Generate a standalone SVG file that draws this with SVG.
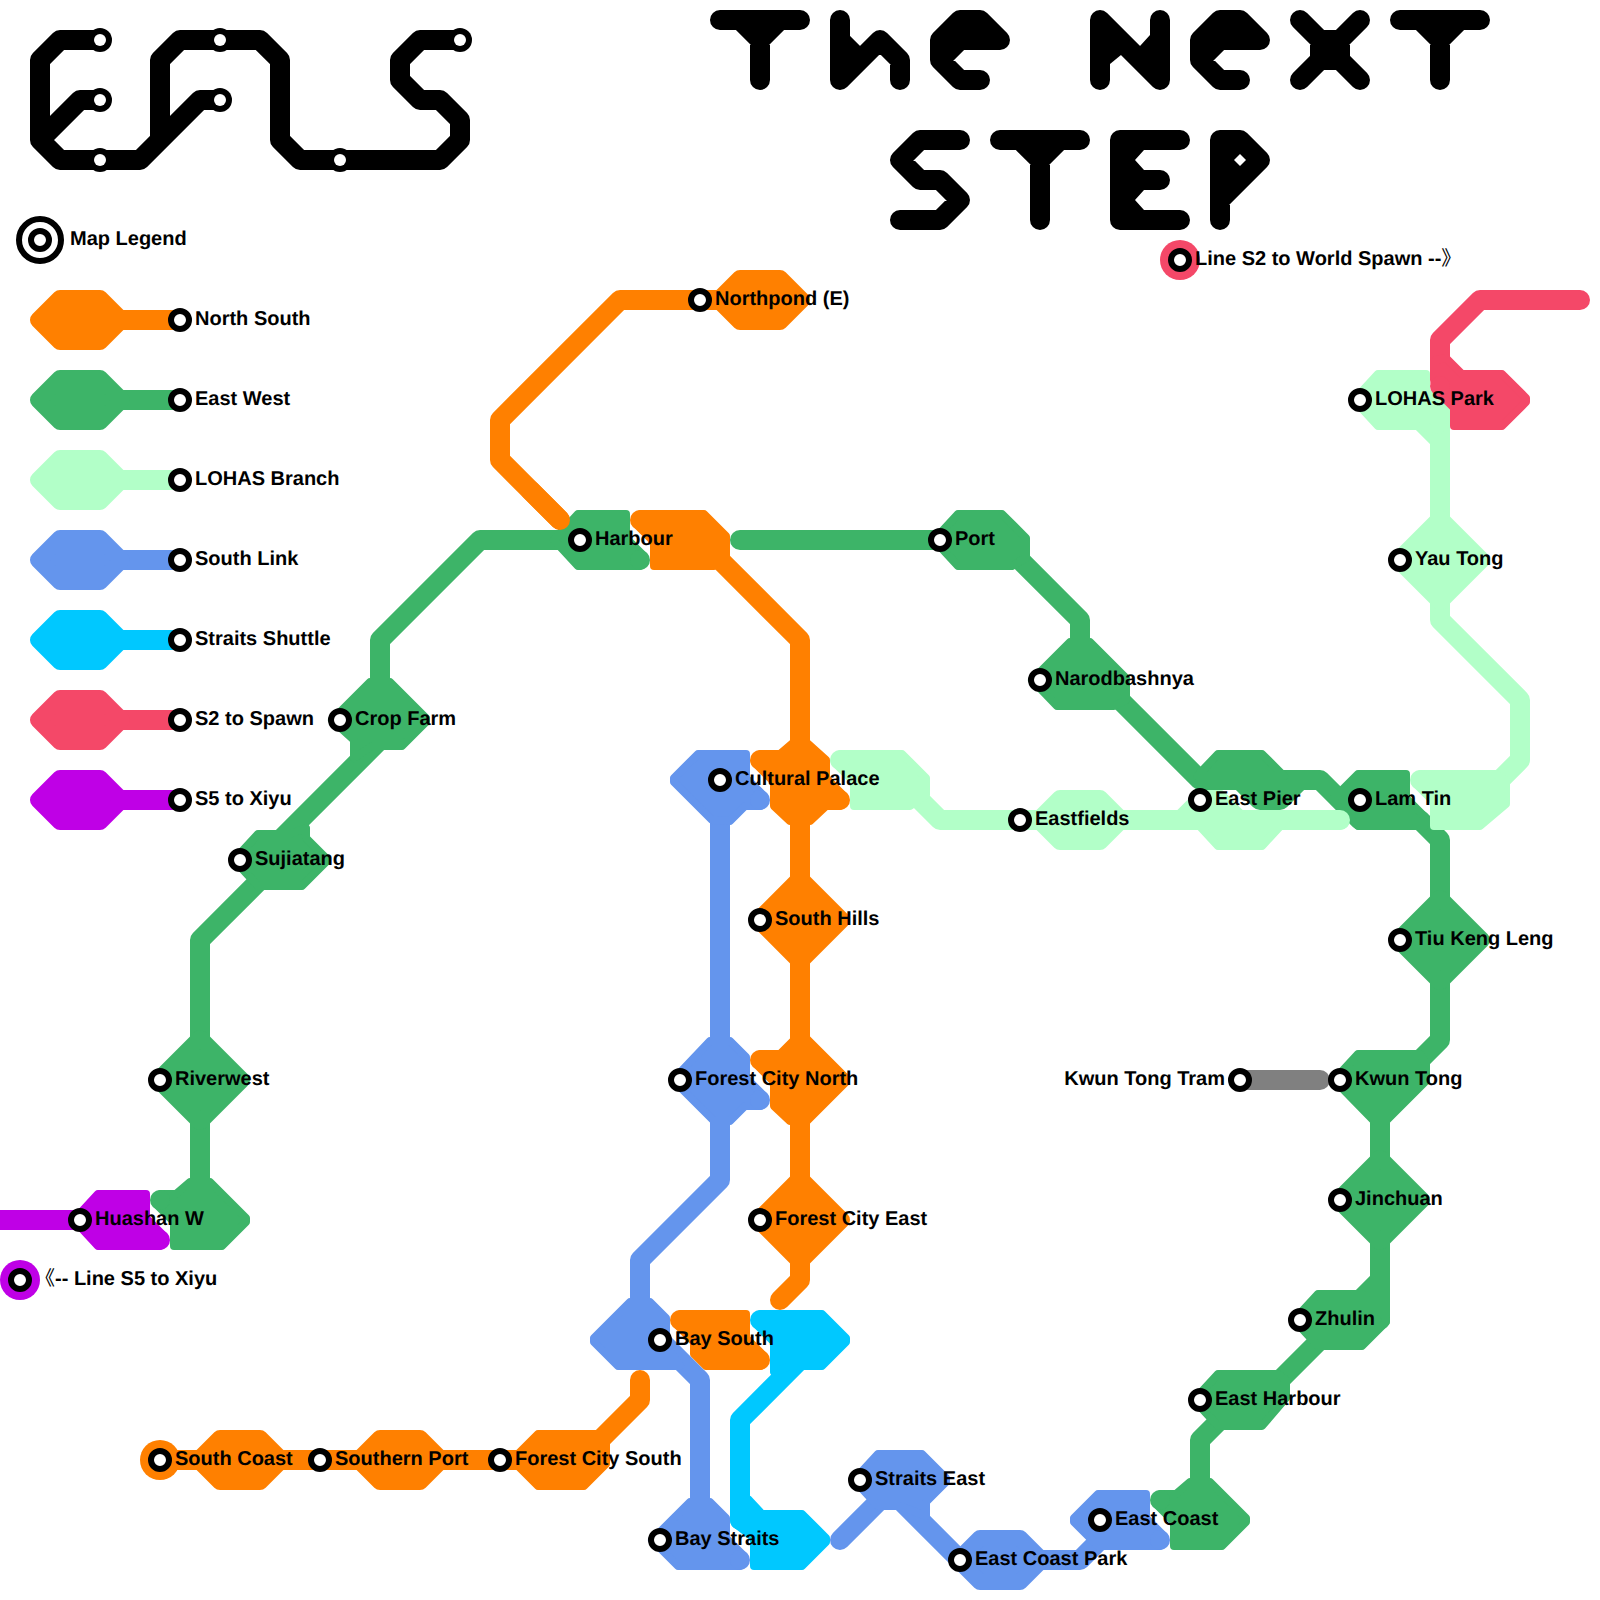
<svg xmlns="http://www.w3.org/2000/svg" xmlns:xlink="http://www.w3.org/1999/xlink" width="1600" height="1600" viewBox="0 0 1600 1600">
<style>
text{font:bold 20px "Liberation Sans","Noto Sans CJK SC",sans-serif;fill:#000;text-rendering:geometricPrecision}
.thin{font-weight:400}
.l{fill:none;stroke-width:20;stroke-linecap:round;stroke-linejoin:round}
.s{stroke-width:8;stroke-linejoin:round}
.r{stroke-width:16;stroke-linejoin:round}
.k{stroke:#000}.kf{fill:#000}
.or{stroke:#ff8000;fill:#ff8000}.gr{stroke:#3db468;fill:#3db468}.lg{stroke:#b2ffc8;fill:#b2ffc8}.bl{stroke:#6495ed;fill:#6495ed}.cy{stroke:#00c8ff;fill:#00c8ff}.pk{stroke:#f44868;fill:#f44868}.pu{stroke:#bf00e6;fill:#bf00e6}.gy{stroke:#808080}
.l.or,.l.gr,.l.lg,.l.bl,.l.cy,.l.pk,.l.pu,.l.k,.l.gy{fill:none}
.c{stroke:none}
</style>
<defs>
<polygon id="hex" class="r" points="-42,0 -20,-22 20,-22 42,0 20,22 -20,22"/>
<polygon id="dia" class="r" points="-42,0 0,-42 42,0 0,42"/>
<circle id="st" r="9" fill="#fff" stroke="#000" stroke-width="6"/>
<circle id="dot" r="6" fill="#fff"/>
</defs>

<g id="title-efls">
<path class="l k" d="M460,40H420L400,60V80L420,100H440L460,120V140L440,160H300L280,140V60L260,40H180L160,60V140L140,160H60L40,140V60L60,40H100M100,100H80L40,140M220,100H200L140,160"/>
<g fill="#000"><circle cx="100" cy="40" r="12"/><circle cx="100" cy="100" r="12"/><circle cx="100" cy="160" r="12"/><circle cx="220" cy="40" r="12"/><circle cx="220" cy="100" r="12"/><circle cx="340" cy="160" r="12"/><circle cx="460" cy="40" r="12"/></g>
<use href="#dot" x="100" y="40"/><use href="#dot" x="100" y="100"/><use href="#dot" x="100" y="160"/><use href="#dot" x="220" y="40"/><use href="#dot" x="220" y="100"/><use href="#dot" x="340" y="160"/><use href="#dot" x="460" y="40"/>
</g>
<g id="title-next-step">
<path class="l k" d="M720,20H800M740,20L760,40V80M780,20L760,40M840,20V80M840,40L860,60M840,80L880,40L900,60V80M980,80H960L940,60V40L960,20H980L1000,40H960L940,60M1100,80V20L1160,80V20M1240,80H1220L1200,60V40L1220,20H1240L1260,40H1220L1200,60M1300,20L1320,40V60L1300,80M1360,20L1340,40V60L1360,80M1320,40H1340M1320,60H1340M1400,20H1480M1420,20L1440,40V80M1460,20L1440,40M960,140H920L900,160L920,180H940L960,200L940,220H900M1000,140H1080M1020,140L1040,160V220M1060,140L1040,160M1180,140H1120V220H1180M1160,180H1120M1220,220V140H1240L1260,160L1220,200"/>
<polygon class="kf" points="1108,40 1125,50 1121,55 1110,64 1108,64"/>
<polygon class="kf" points="1136,50 1140,46 1150,35 1152,35 1152,60"/>
<polygon class="kf" points="1144,150 1135,160 1144,170 1120,170 1120,150"/>
<polygon class="kf" points="1144,190 1135,200 1144,210 1120,210 1120,190"/>
<polygon class="kf" points="1220,140 1240,140 1260,160 1220,200"/>
<polygon fill="#fff" points="1240,154 1246,160 1240,166 1234,160"/>
</g>

<g id="connectors">
<path class="l gy" d="M1240,1080H1320"/>
<path class="l gr" d="M200,1220V940L280,860M280,840L380,740V640L480,540H580M740,540H1000L1080,620V650M1100,680L1200,780H1320L1360,820H1420L1440,840V1040L1380,1100V1320M1240,780L1260,800H1280L1300,780M1380,1280L1280,1380M1240,1400L1200,1440V1500"/>
<path class="l or" d="M760,300H620L500,420V460L560,520M700,540L800,640V1280L780,1300M160,1460H580L640,1400V1380"/>
<path class="l lg" d="M1440,400V620L1520,700V760L1480,800M1420,420L1440,440M900,780L940,820H1340"/>
<path class="l bl" d="M720,780V1180L640,1260V1300M660,1340L700,1380V1500M840,1540L900,1480M900,1500L960,1560M1020,1560H1080L1110,1530"/>
<path class="l cy" d="M800,1360L740,1420V1520"/>
<path class="l pk" d="M1580,300H1480L1440,340V380"/>
<path class="l pu" d="M0,1220H80"/>
</g>

<g id="legend-title"><circle cx="40" cy="240" r="21" fill="#fff" stroke="#000" stroke-width="6"/><use href="#st" x="40" y="240"/><text x="70" y="245">Map Legend</text></g>
<g id="legend-north-south"><path class="l or" d="M100,320H180"/><use href="#hex" class="or" x="80" y="320"/><use href="#st" x="180" y="320"/><text x="195" y="325">North South</text></g>
<g id="legend-east-west"><path class="l gr" d="M100,400H180"/><use href="#hex" class="gr" x="80" y="400"/><use href="#st" x="180" y="400"/><text x="195" y="405">East West</text></g>
<g id="legend-lohas"><path class="l lg" d="M100,480H180"/><use href="#hex" class="lg" x="80" y="480"/><use href="#st" x="180" y="480"/><text x="195" y="485">LOHAS Branch</text></g>
<g id="legend-south-link"><path class="l bl" d="M100,560H180"/><use href="#hex" class="bl" x="80" y="560"/><use href="#st" x="180" y="560"/><text x="195" y="565">South Link</text></g>
<g id="legend-straits"><path class="l cy" d="M100,640H180"/><use href="#hex" class="cy" x="80" y="640"/><use href="#st" x="180" y="640"/><text x="195" y="645">Straits Shuttle</text></g>
<g id="legend-s2"><path class="l pk" d="M100,720H180"/><use href="#hex" class="pk" x="80" y="720"/><use href="#st" x="180" y="720"/><text x="195" y="725">S2 to Spawn</text></g>
<g id="legend-s5"><path class="l pu" d="M100,800H180"/><use href="#hex" class="pu" x="80" y="800"/><use href="#st" x="180" y="800"/><text x="195" y="805">S5 to Xiyu</text></g>

<g id="node-northpond"><use href="#hex" class="or" x="760" y="300"/><use href="#st" x="700" y="300"/><text x="715" y="305">Northpond (E)</text></g>
<g id="node-harbour">
<polygon class="s gr" points="554,540 578,514 626,514 626,538 644,556 640,566 578,566"/><circle class="gr c" cx="640" cy="560" r="10"/>
<path class="l or" d="M530,490L560,520"/>
<polygon class="s or" points="640,514 704,514 726,536 726,558 714,566 654,566 654,542 636,524"/><circle class="or c" cx="640" cy="520" r="10"/>
<use href="#st" x="580" y="540"/><text x="595" y="545">Harbour</text></g>
<g id="node-port"><polygon class="s gr" points="934,540 958,514 1002,514 1026,538 1026,558 1012,566 958,566"/><use href="#st" x="940" y="540"/><text x="955" y="545">Port</text></g>
<g id="node-crop-farm"><polygon class="s gr" points="370,682 390,682 426,718 426,722 402,746 372,746 354,758 354,740 332,720"/><use href="#st" x="340" y="720"/><text x="355" y="725">Crop Farm</text></g>
<g id="node-sujiatang"><polygon class="s gr" points="234,860 258,834 290,834 306,828 306,838 326,858 326,862 302,886 258,886"/><use href="#st" x="240" y="860"/><text x="255" y="865">Sujiatang</text></g>
<g id="node-riverwest"><use href="#dia" class="gr" x="200" y="1080"/><use href="#st" x="160" y="1080"/><text x="175" y="1085">Riverwest</text></g>
<g id="node-huashan-w">
<polygon class="s pu" points="74,1220 98,1194 146,1194 146,1218 164,1236 160,1246 98,1246"/><circle class="pu c" cx="160" cy="1240" r="10"/>
<polygon class="s gr" points="190,1182 210,1182 246,1218 246,1222 222,1246 174,1246 174,1222 156,1204 160,1194 176,1194"/><circle class="gr c" cx="160" cy="1200" r="10"/>
<use href="#st" x="80" y="1220"/><text x="95" y="1225">Huashan W</text></g>
<g id="terminal-s5"><circle class="pu c" cx="20" cy="1280" r="20"/><use href="#st" x="20" y="1280"/><text x="35" y="1285"><tspan class="thin">《</tspan>-- Line S5 to Xiyu</text></g>
<g id="terminal-s2"><circle class="pk c" cx="1180" cy="260" r="20"/><use href="#st" x="1180" y="260"/><text x="1195" y="265">Line S2 to World Spawn --<tspan class="thin">》</tspan></text></g>
<g id="node-south-coast"><circle class="or c" cx="160" cy="1460" r="20"/><use href="#hex" class="or" x="240" y="1460"/><use href="#st" x="160" y="1460"/><text x="175" y="1465">South Coast</text></g>
<g id="node-southern-port"><use href="#hex" class="or" x="400" y="1460"/><use href="#st" x="320" y="1460"/><text x="335" y="1465">Southern Port</text></g>
<g id="node-forest-city-south"><polygon class="s or" points="514,1458 538,1434 596,1434 606,1444 606,1464 584,1486 538,1486 514,1462"/><use href="#st" x="500" y="1460"/><text x="515" y="1465">Forest City South</text></g>
<g id="node-cultural-palace">
<polygon class="s bl" points="674,778 698,754 746,754 746,778 764,796 760,806 745,806 730,821 712,820 674,782"/><circle class="bl c" cx="760" cy="800" r="10"/>
<polygon class="s or" points="760,754 780,754 794,742 806,742 826,760 826,778 844,796 840,806 826,806 810,821 790,821 774,806 774,782 756,764"/><circle class="or c" cx="760" cy="760" r="10"/><circle class="or c" cx="840" cy="800" r="10"/>
<polygon class="s lg" points="840,754 902,754 926,778 926,795 910,806 854,806 854,782 836,764"/><circle class="lg c" cx="840" cy="760" r="10"/>
<use href="#st" x="720" y="780"/><text x="735" y="785">Cultural Palace</text></g>
<g id="node-south-hills"><use href="#dia" class="or" x="800" y="920"/><use href="#st" x="760" y="920"/><text x="775" y="925">South Hills</text></g>
<g id="node-forest-city-north">
<polygon class="s bl" points="673,1080 710,1041 730,1041 746,1057 746,1078 764,1096 760,1106 745,1106 730,1121 714,1121"/><circle class="bl c" cx="760" cy="1100" r="10"/>
<polygon class="s or" points="760,1054 780,1054 794,1040 806,1038 846,1078 846,1082 807,1121 790,1121 774,1106 774,1082 756,1064"/><circle class="or c" cx="760" cy="1060" r="10"/>
<use href="#st" x="680" y="1080"/><text x="695" y="1085">Forest City North</text></g>
<g id="node-forest-city-east"><use href="#dia" class="or" x="800" y="1220"/><use href="#st" x="760" y="1220"/><text x="775" y="1225">Forest City East</text></g>
<g id="node-bay-south">
<polygon class="s or" points="680,1314 746,1314 746,1338 764,1356 760,1366 706,1366 694,1354 694,1342 676,1324"/><circle class="or c" cx="680" cy="1320" r="10"/><circle class="or c" cx="760" cy="1360" r="10"/>
<polygon class="s bl" points="594,1338 630,1302 650,1302 666,1318 666,1345 680,1366 618,1366 594,1342"/>
<polygon class="s cy" points="760,1314 822,1314 846,1338 846,1342 822,1366 790,1366 774,1372 774,1342 756,1324"/><circle class="cy c" cx="760" cy="1320" r="10"/>
<use href="#st" x="660" y="1340"/><text x="675" y="1345">Bay South</text></g>
<g id="node-bay-straits">
<polygon class="s bl" points="652,1540 690,1502 710,1502 726,1518 726,1538 744,1556 740,1566 678,1566"/><circle class="bl c" cx="740" cy="1560" r="10"/>
<polygon class="s cy" points="748,1499 762,1514 802,1514 826,1538 826,1542 802,1566 754,1566 754,1538 736,1524"/><circle class="cy c" cx="740" cy="1520" r="10"/>
<use href="#st" x="660" y="1540"/><text x="675" y="1545">Bay Straits</text></g>
<g id="node-straits-east"><polygon class="s bl" points="854,1480 878,1454 922,1454 946,1478 946,1482 926,1502 926,1516 900,1506 878,1506"/><use href="#st" x="860" y="1480"/><text x="875" y="1485">Straits East</text></g>
<g id="node-east-coast-park"><use href="#hex" class="bl" x="1000" y="1560"/><use href="#st" x="960" y="1560"/><text x="975" y="1565">East Coast Park</text></g>
<g id="node-east-coast">
<polygon class="s bl" points="1074,1518 1098,1494 1146,1494 1146,1518 1164,1536 1160,1546 1098,1546 1074,1522"/><circle class="bl c" cx="1160" cy="1540" r="10"/>
<polygon class="s gr" points="1190,1482 1210,1482 1246,1518 1246,1522 1222,1546 1174,1546 1174,1522 1156,1504 1160,1494 1176,1494"/><circle class="gr c" cx="1160" cy="1500" r="10"/>
<use href="#st" x="1100" y="1520"/><text x="1115" y="1525">East Coast</text></g>
<g id="node-east-harbour"><polygon class="s gr" points="1194,1400 1218,1374 1278,1374 1286,1380 1286,1398 1262,1426 1218,1426"/><use href="#st" x="1200" y="1400"/><text x="1215" y="1405">East Harbour</text></g>
<g id="node-zhulin"><polygon class="s gr" points="1294,1320 1318,1294 1362,1294 1386,1318 1386,1322 1362,1346 1318,1346"/><use href="#st" x="1300" y="1320"/><text x="1315" y="1325">Zhulin</text></g>
<g id="node-jinchuan"><use href="#dia" class="gr" x="1380" y="1200"/><use href="#st" x="1340" y="1200"/><text x="1355" y="1205">Jinchuan</text></g>
<g id="node-kwun-tong"><polygon class="s gr" points="1334,1080 1358,1054 1420,1054 1426,1064 1426,1081 1386,1121 1374,1121"/><use href="#st" x="1340" y="1080"/><text x="1355" y="1085">Kwun Tong</text></g>
<g id="node-kwun-tong-tram"><use href="#st" x="1240" y="1080"/><text x="1225" y="1085" text-anchor="end">Kwun Tong Tram</text></g>
<g id="node-tiu-keng-leng"><use href="#dia" class="gr" x="1440" y="940"/><use href="#st" x="1400" y="940"/><text x="1415" y="945">Tiu Keng Leng</text></g>
<g id="node-narodbashnya"><polygon class="s gr" points="1070,642 1090,642 1126,678 1126,700 1114,706 1057,706 1032,680"/><use href="#st" x="1040" y="680"/><text x="1055" y="685">Narodbashnya</text></g>
<g id="node-eastfields"><use href="#hex" class="lg" x="1080" y="820"/><use href="#st" x="1020" y="820"/><text x="1035" y="825">Eastfields</text></g>
<g id="node-east-pier">
<polygon class="s gr" points="1197,776 1218,754 1262,754 1284,776"/>
<polygon class="s lg" points="1178,815 1199,794 1221,794 1242,815"/>
<polygon class="s lg" points="1194,820 1218,846 1262,846 1286,820"/>
<use href="#st" x="1200" y="800"/><text x="1215" y="805">East Pier</text></g>
<g id="node-lam-tin">
<polygon class="s gr" points="1334,798 1358,774 1406,774 1406,798 1424,816 1424,826 1358,826 1334,802"/>
<path class="l lg" d="M1320,820H1340"/>
<polygon class="s lg" points="1420,774 1496,774 1506,780 1506,804 1480,826 1434,826 1434,802 1416,784"/><circle class="lg c" cx="1420" cy="780" r="10"/>
<use href="#st" x="1360" y="800"/><text x="1375" y="805">Lam Tin</text></g>
<g id="node-yau-tong"><use href="#dia" class="lg" x="1440" y="560"/><use href="#st" x="1400" y="560"/><text x="1415" y="565">Yau Tong</text></g>
<g id="node-lohas-park">
<polygon class="s lg" points="1354,400 1378,374 1426,374 1426,392 1440,400 1440,430 1418,426 1378,426"/>
<polygon class="s pk" points="1462,374 1502,374 1526,398 1526,402 1502,426 1454,426 1454,408 1436,390 1436,360 1446,358"/><circle class="pk c" cx="1440" cy="386" r="10"/>
<use href="#st" x="1360" y="400"/><text x="1375" y="405">LOHAS Park</text></g>
</svg>
